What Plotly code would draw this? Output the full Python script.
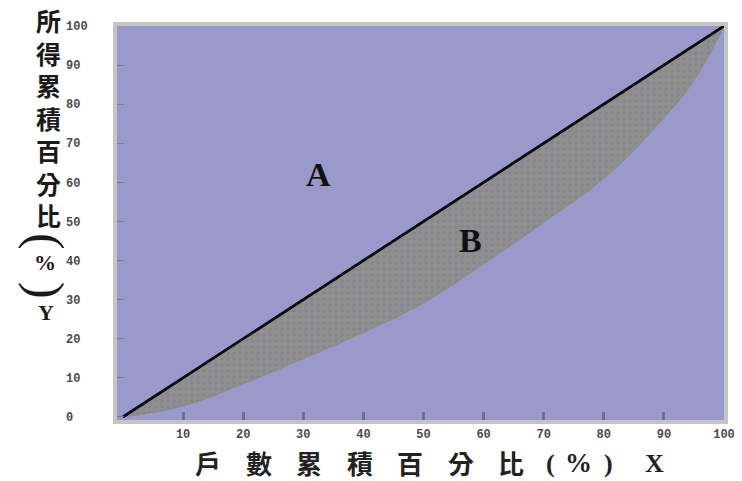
import plotly.graph_objects as go

# Curva de Lorenz: % acumulado de hogares vs % acumulado de ingreso
pct_hogares = [0, 10, 20, 30, 40, 50, 60, 70, 80, 90, 95, 100]
pct_ingreso = [0, 2.8, 8.5, 14.9, 21.6, 29.2, 39.1, 49.8, 61.0, 76.5, 86.1, 100]

# Línea de igualdad perfecta
igualdad_x = [0, 100]
igualdad_y = [0, 100]

ticks_x = [10, 20, 30, 40, 50, 60, 70, 80, 90, 100]
ticks_y = [0, 10, 20, 30, 40, 50, 60, 70, 80, 90, 100]

titulo_x = '戶數累積百分比'
titulo_y = '所得累積百分比'

# geometría del área de trazado (px)
W, H = 742, 481
L, R, T, B = 109, 26, 18, 69
pw, ph = W - L - R, H - T - B


def px_x(x):
    return (x - L) / pw


def px_y(y):
    return (H - B - y) / ph


def texto(cx, cy, txt, fam, size, angle=0, color='#1a1a1a', weight='bold'):
    fig.add_annotation(xref='paper', yref='paper', x=px_x(cx), y=px_y(cy),
                       xanchor='center', yanchor='middle', showarrow=False,
                       text=txt, textangle=angle, borderpad=0,
                       font=dict(family=fam, size=size, color=color, weight=weight))


fig = go.Figure()

# Curva de Lorenz (borde inferior del área B)
fig.add_trace(go.Scatter(
    x=pct_hogares, y=pct_ingreso, mode='lines',
    line=dict(color='#8a8a8a', width=1, shape='spline', smoothing=1.2),
    hoverinfo='skip', showlegend=False
))

# Línea de igualdad, rellena hasta la curva anterior (área B)
fig.add_trace(go.Scatter(
    x=igualdad_x, y=igualdad_y, mode='lines',
    line=dict(color='#111111', width=2.5),
    fill='tonexty', fillcolor='#8e8e8e',
    fillpattern=dict(shape='.', bgcolor='#8f8f8f', fgcolor='#7c7c8c',
                     size=6, solidity=0.25),
    hoverinfo='skip', showlegend=False
))

# La línea negra otra vez encima del relleno
fig.add_trace(go.Scatter(
    x=igualdad_x, y=igualdad_y, mode='lines',
    line=dict(color='#0a0a0a', width=2.5),
    hoverinfo='skip', showlegend=False
))

fig.add_annotation(x=32.5, y=62, text='A', showarrow=False,
                   font=dict(family='Liberation Serif', size=34, color='#111111', weight='bold'))
fig.add_annotation(x=57.8, y=45, text='B', showarrow=False,
                   font=dict(family='Liberation Serif', size=34, color='#111111', weight='bold'))

# Título del eje Y en vertical
for i, ch in enumerate(titulo_y):
    texto(40, 12 + 32.5 * i, ch, 'Noto Sans CJK TC', 25)
texto(38, 233, '(', 'Liberation Serif', 50, angle=90, weight='normal')
texto(37, 254, '%', 'Liberation Serif', 22)
texto(38, 282, ')', 'Liberation Serif', 50, angle=90, weight='normal')
texto(38, 304, 'Y', 'Liberation Serif', 22)

# Título del eje X, un carácter por anotación para imitar el espaciado
for i, ch in enumerate(titulo_x):
    texto(200 + 50.5 * i, 454, ch, 'Noto Sans CJK TC', 26, color='#222222')
texto(542, 455, '(', 'Liberation Serif', 26, color='#222222')
texto(570, 455, '%', 'Liberation Serif', 27, color='#222222')
texto(600, 455, ')', 'Liberation Serif', 26, color='#222222')
texto(646, 455, 'X', 'Liberation Serif', 26, color='#222222')

fig.update_xaxes(
    range=[-1, 100], tickvals=ticks_x, ticktext=[str(v) for v in ticks_x],
    showgrid=False, zeroline=False,
    ticks='inside', ticklen=8, tickwidth=3, tickcolor='#6f6f8a',
    showline=True, linewidth=4, linecolor='#c4c4c4', mirror=True,
    tickfont=dict(family='Liberation Mono', size=12, color='#4a4a4a', weight='bold'),
    ticklabelstandoff=0
)
fig.update_yaxes(
    range=[-0.8, 100], tickvals=ticks_y,
    ticktext=[str(v) + '\u00a0' * (3 - len(str(v))) for v in ticks_y],
    showgrid=False, zeroline=False,
    ticks='inside', ticklen=7, tickwidth=1, tickcolor='#7777a0',
    showline=True, linewidth=4, linecolor='#c4c4c4', mirror=True,
    tickfont=dict(family='Liberation Mono', size=12, color='#4a4a4a', weight='bold'),
    ticklabelstandoff=23
)

fig.update_layout(
    width=W, height=H,
    margin=dict(l=L, r=R, t=T, b=B),
    plot_bgcolor='#9999cc', paper_bgcolor='white',
    showlegend=False
)

fig.write_html('out.html')
